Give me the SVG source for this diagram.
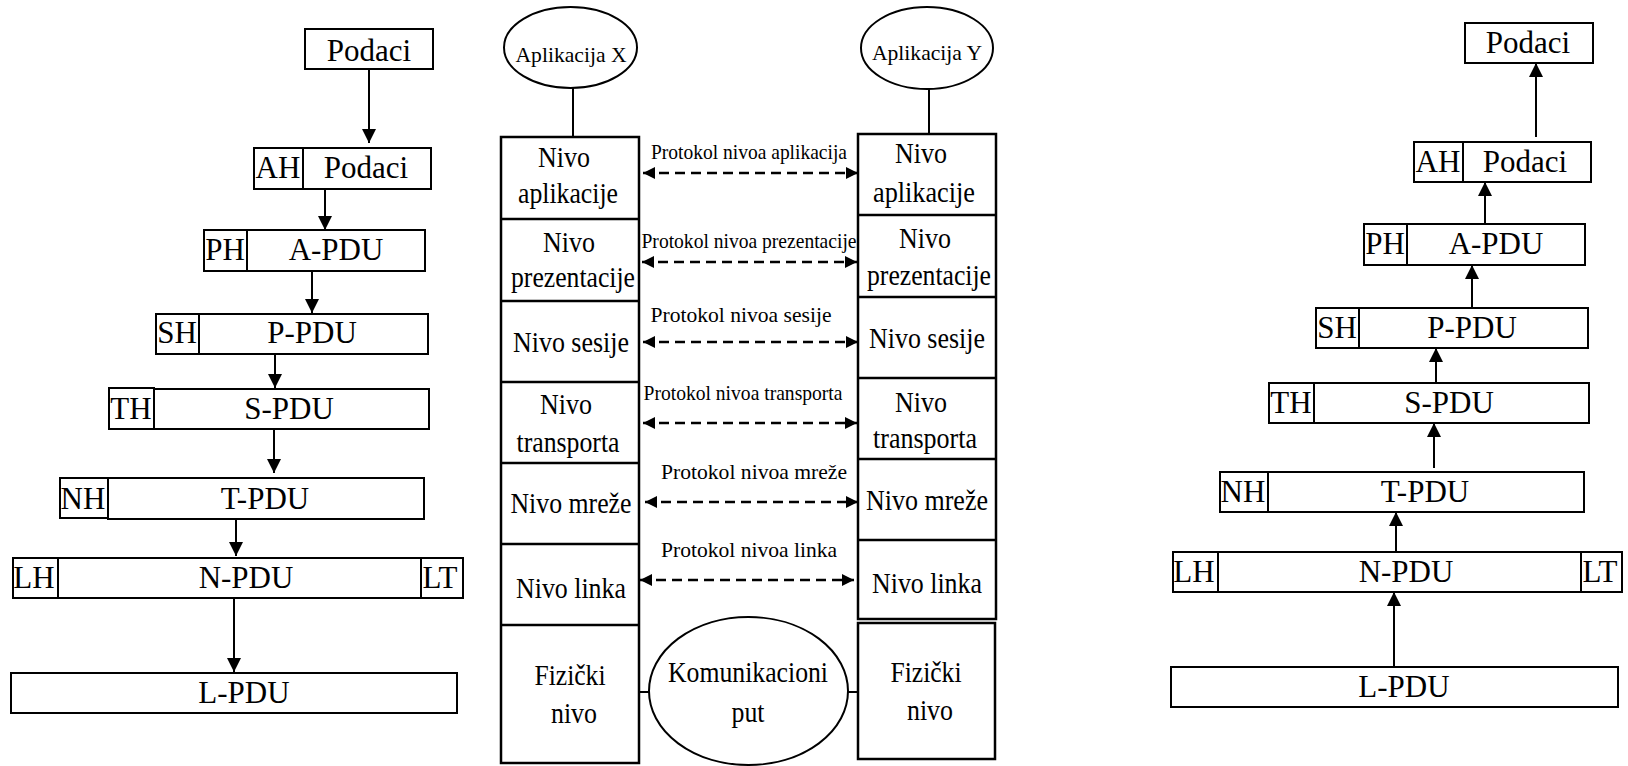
<svg xmlns="http://www.w3.org/2000/svg" width="1628" height="766" viewBox="0 0 1628 766">
<defs>
<style>
.b{fill:#fff;stroke:#000;stroke-width:2}
.s{fill:none;stroke:#000;stroke-width:2.5}
.t{font-family:"Liberation Serif","Times New Roman",serif;font-size:31px;fill:#000;text-anchor:middle}
.m{font-family:"Liberation Serif","Times New Roman",serif;font-size:30px;fill:#000;text-anchor:middle}
.p{font-family:"Liberation Serif","Times New Roman",serif;font-size:22px;fill:#000;text-anchor:middle}
.a{fill:none;stroke:#000;stroke-width:2}
.d{fill:none;stroke:#000;stroke-width:2.5;stroke-dasharray:10 6}
</style>
<marker id="ah" viewBox="0 0 14 14" refX="14" refY="7" markerWidth="14" markerHeight="14" markerUnits="userSpaceOnUse" orient="auto"><path d="M0,0 L14,7 L0,14 z" fill="#000"/></marker>
<marker id="dh" viewBox="0 0 12 12" refX="12" refY="6" markerWidth="12" markerHeight="12" markerUnits="userSpaceOnUse" orient="auto-start-reverse"><path d="M0,0 L12,6 L0,12 z" fill="#000"/></marker>
</defs>
<rect width="1628" height="766" fill="#fff"/>

<!-- Left column: encapsulation -->
<g id="l-podaci"><rect class="b" x="305" y="29" width="128" height="40"/><text class="t" x="369" y="61">Podaci</text></g>
<g id="l-ah"><rect class="b" x="254" y="148" width="49" height="41"/><text class="t" x="278" y="178">AH</text><rect class="b" x="303" y="148" width="128" height="41"/><text class="t" x="366" y="178">Podaci</text></g>
<g id="l-ph"><rect class="b" x="204" y="230" width="43" height="41"/><text class="t" x="225" y="260">PH</text><rect class="b" x="247" y="230" width="178" height="41"/><text class="t" x="336" y="260">A-PDU</text></g>
<g id="l-sh"><rect class="b" x="156" y="314" width="43" height="40"/><text class="t" x="177" y="343">SH</text><rect class="b" x="199" y="314" width="229" height="40"/><text class="t" x="312" y="343">P-PDU</text></g>
<g id="l-th"><rect class="b" x="109" y="388" width="45" height="41"/><text class="t" x="131" y="419">TH</text><rect class="b" x="154" y="389" width="275" height="40"/><text class="t" x="289" y="419">S-PDU</text></g>
<g id="l-nh"><rect class="b" x="60" y="478" width="48" height="40"/><text class="t" x="83" y="509">NH</text><rect class="b" x="108" y="478" width="316" height="41"/><text class="t" x="265" y="509">T-PDU</text></g>
<g id="l-lh"><rect class="b" x="13" y="558" width="45" height="40"/><text class="t" x="34" y="588">LH</text><rect class="b" x="58" y="558" width="363" height="40"/><text class="t" x="246" y="588">N-PDU</text><rect class="b" x="421" y="558" width="42" height="40"/><text class="t" x="440" y="588">LT</text></g>
<g id="l-lpdu"><rect class="b" x="11" y="673" width="446" height="40"/><text class="t" x="244" y="703">L-PDU</text></g>

<!-- Right column: decapsulation -->
<g id="r-podaci"><rect class="b" x="1465" y="23" width="128" height="40"/><text class="t" x="1528" y="53">Podaci</text></g>
<g id="r-ah"><rect class="b" x="1414" y="142" width="49" height="40"/><text class="t" x="1438" y="172">AH</text><rect class="b" x="1463" y="142" width="128" height="40"/><text class="t" x="1525" y="172">Podaci</text></g>
<g id="r-ph"><rect class="b" x="1364" y="224" width="43" height="41"/><text class="t" x="1385" y="254">PH</text><rect class="b" x="1407" y="224" width="178" height="41"/><text class="t" x="1496" y="254">A-PDU</text></g>
<g id="r-sh"><rect class="b" x="1316" y="308" width="43" height="40"/><text class="t" x="1337" y="338">SH</text><rect class="b" x="1359" y="308" width="229" height="40"/><text class="t" x="1472" y="338">P-PDU</text></g>
<g id="r-th"><rect class="b" x="1269" y="383" width="45" height="40"/><text class="t" x="1291" y="413">TH</text><rect class="b" x="1314" y="383" width="275" height="40"/><text class="t" x="1449" y="413">S-PDU</text></g>
<g id="r-nh"><rect class="b" x="1220" y="472" width="48" height="40"/><text class="t" x="1243" y="502">NH</text><rect class="b" x="1268" y="472" width="316" height="40"/><text class="t" x="1425" y="502">T-PDU</text></g>
<g id="r-lh"><rect class="b" x="1173" y="552" width="45" height="40"/><text class="t" x="1194" y="582">LH</text><rect class="b" x="1218" y="552" width="363" height="40"/><text class="t" x="1406" y="582">N-PDU</text><rect class="b" x="1581" y="552" width="41" height="40"/><text class="t" x="1600" y="582">LT</text></g>
<g id="r-lpdu"><rect class="b" x="1171" y="667" width="447" height="40"/><text class="t" x="1404" y="697">L-PDU</text></g>

<!-- Middle: OSI stacks -->
<g id="app-x"><ellipse class="a" cx="570.5" cy="47.5" rx="66.5" ry="40.5"/><text class="p" x="571" y="62" font-size="25" textLength="111" lengthAdjust="spacingAndGlyphs">Aplikacija X</text></g>
<g id="app-y"><ellipse class="a" cx="927" cy="48" rx="66" ry="41"/><text class="p" x="927" y="60" font-size="25" textLength="110" lengthAdjust="spacingAndGlyphs">Aplikacija Y</text></g>
<g id="komunikacioni-put"><ellipse class="a" cx="748.5" cy="691" rx="99.5" ry="74"/><text class="m" x="748" y="682" textLength="160" lengthAdjust="spacingAndGlyphs">Komunikacioni</text><text class="m" x="748" y="722" textLength="33" lengthAdjust="spacingAndGlyphs">put</text></g>

<g id="stack-x">
<rect class="s" x="501" y="137" width="138" height="626"/>
<line class="s" x1="501" y1="219" x2="639" y2="219"/>
<line class="s" x1="501" y1="301" x2="639" y2="301"/>
<line class="s" x1="501" y1="382" x2="639" y2="382"/>
<line class="s" x1="501" y1="463" x2="639" y2="463"/>
<line class="s" x1="501" y1="544" x2="639" y2="544"/>
<line class="s" x1="501" y1="625" x2="639" y2="625"/>
<text class="m" x="564" y="167" textLength="52" lengthAdjust="spacingAndGlyphs">Nivo</text>
<text class="m" x="568" y="203" textLength="100" lengthAdjust="spacingAndGlyphs">aplikacije</text>
<text class="m" x="569" y="252" textLength="52" lengthAdjust="spacingAndGlyphs">Nivo</text>
<text class="m" x="573" y="287" textLength="124" lengthAdjust="spacingAndGlyphs">prezentacije</text>
<text class="m" x="571" y="352" textLength="116" lengthAdjust="spacingAndGlyphs">Nivo sesije</text>
<text class="m" x="566" y="414" textLength="52" lengthAdjust="spacingAndGlyphs">Nivo</text>
<text class="m" x="568" y="452" textLength="103" lengthAdjust="spacingAndGlyphs">transporta</text>
<text class="m" x="571" y="513" textLength="121" lengthAdjust="spacingAndGlyphs">Nivo mreže</text>
<text class="m" x="571" y="598" textLength="110" lengthAdjust="spacingAndGlyphs">Nivo linka</text>
<text class="m" x="570" y="685" textLength="71" lengthAdjust="spacingAndGlyphs">Fizički</text>
<text class="m" x="574" y="723" textLength="46" lengthAdjust="spacingAndGlyphs">nivo</text>
</g>

<g id="stack-y">
<rect class="s" x="858" y="134" width="138" height="485"/>
<line class="s" x1="858" y1="215" x2="996" y2="215"/>
<line class="s" x1="858" y1="297" x2="996" y2="297"/>
<line class="s" x1="858" y1="378" x2="996" y2="378"/>
<line class="s" x1="858" y1="459" x2="996" y2="459"/>
<line class="s" x1="858" y1="540" x2="996" y2="540"/>
<rect class="s" x="858" y="623" width="137" height="136"/>
<text class="m" x="921" y="163" textLength="52" lengthAdjust="spacingAndGlyphs">Nivo</text>
<text class="m" x="924" y="202" textLength="102" lengthAdjust="spacingAndGlyphs">aplikacije</text>
<text class="m" x="925" y="248" textLength="52" lengthAdjust="spacingAndGlyphs">Nivo</text>
<text class="m" x="929" y="285" textLength="124" lengthAdjust="spacingAndGlyphs">prezentacije</text>
<text class="m" x="927" y="348" textLength="116" lengthAdjust="spacingAndGlyphs">Nivo sesije</text>
<text class="m" x="921" y="412" textLength="52" lengthAdjust="spacingAndGlyphs">Nivo</text>
<text class="m" x="925" y="448" textLength="104" lengthAdjust="spacingAndGlyphs">transporta</text>
<text class="m" x="927" y="510" textLength="122" lengthAdjust="spacingAndGlyphs">Nivo mreže</text>
<text class="m" x="927" y="593" textLength="110" lengthAdjust="spacingAndGlyphs">Nivo linka</text>
<text class="m" x="926" y="682" textLength="71" lengthAdjust="spacingAndGlyphs">Fizički</text>
<text class="m" x="930" y="720" textLength="46" lengthAdjust="spacingAndGlyphs">nivo</text>
</g>

<g id="protocol-labels">
<text class="p" x="749" y="159" font-size="21" textLength="196" lengthAdjust="spacingAndGlyphs">Protokol nivoa aplikacija</text>
<text class="p" x="749" y="248" font-size="21" textLength="215" lengthAdjust="spacingAndGlyphs">Protokol nivoa prezentacije</text>
<text class="p" x="741" y="322" font-size="25" textLength="181" lengthAdjust="spacingAndGlyphs">Protokol nivoa sesije</text>
<text class="p" x="743" y="400" font-size="22" textLength="199" lengthAdjust="spacingAndGlyphs">Protokol nivoa transporta</text>
<text class="p" x="754" y="479" font-size="25" textLength="186" lengthAdjust="spacingAndGlyphs">Protokol nivoa mreže</text>
<text class="p" x="749" y="557" font-size="23" textLength="176" lengthAdjust="spacingAndGlyphs">Protokol nivoa linka</text>
</g>

<g id="connectors">
<line class="a" x1="369" y1="69" x2="369" y2="143" marker-end="url(#ah)"/>
<line class="a" x1="325" y1="189" x2="325" y2="230" marker-end="url(#ah)"/>
<line class="a" x1="312" y1="271" x2="312" y2="313" marker-end="url(#ah)"/>
<line class="a" x1="275" y1="354" x2="275" y2="388" marker-end="url(#ah)"/>
<line class="a" x1="274" y1="429" x2="274" y2="473" marker-end="url(#ah)"/>
<line class="a" x1="236" y1="519" x2="236" y2="556" marker-end="url(#ah)"/>
<line class="a" x1="234" y1="598" x2="234" y2="672" marker-end="url(#ah)"/>

<line class="a" x1="1536" y1="137" x2="1536" y2="63" marker-end="url(#ah)"/>
<line class="a" x1="1485" y1="224" x2="1485" y2="182" marker-end="url(#ah)"/>
<line class="a" x1="1472" y1="307" x2="1472" y2="265" marker-end="url(#ah)"/>
<line class="a" x1="1436" y1="383" x2="1436" y2="348" marker-end="url(#ah)"/>
<line class="a" x1="1434" y1="468" x2="1434" y2="423" marker-end="url(#ah)"/>
<line class="a" x1="1396" y1="552" x2="1396" y2="512" marker-end="url(#ah)"/>
<line class="a" x1="1394" y1="666" x2="1394" y2="592" marker-end="url(#ah)"/>

<line class="a" x1="573" y1="88" x2="573" y2="137"/>
<line class="a" x1="929" y1="89" x2="929" y2="134"/>
<line class="a" x1="639" y1="692" x2="649" y2="692"/>
<line class="a" x1="848" y1="692" x2="858" y2="692"/>

<line class="d" x1="643" y1="173" x2="858" y2="173" marker-start="url(#dh)" marker-end="url(#dh)"/>
<line class="d" x1="642" y1="262" x2="857" y2="262" marker-start="url(#dh)" marker-end="url(#dh)"/>
<line class="d" x1="643" y1="342" x2="858" y2="342" marker-start="url(#dh)" marker-end="url(#dh)"/>
<line class="d" x1="643" y1="423" x2="857" y2="423" marker-start="url(#dh)" marker-end="url(#dh)"/>
<line class="d" x1="645" y1="502" x2="858" y2="502" marker-start="url(#dh)" marker-end="url(#dh)"/>
<line class="d" x1="640" y1="580" x2="854" y2="580" marker-start="url(#dh)" marker-end="url(#dh)"/>
</g>
</svg>
